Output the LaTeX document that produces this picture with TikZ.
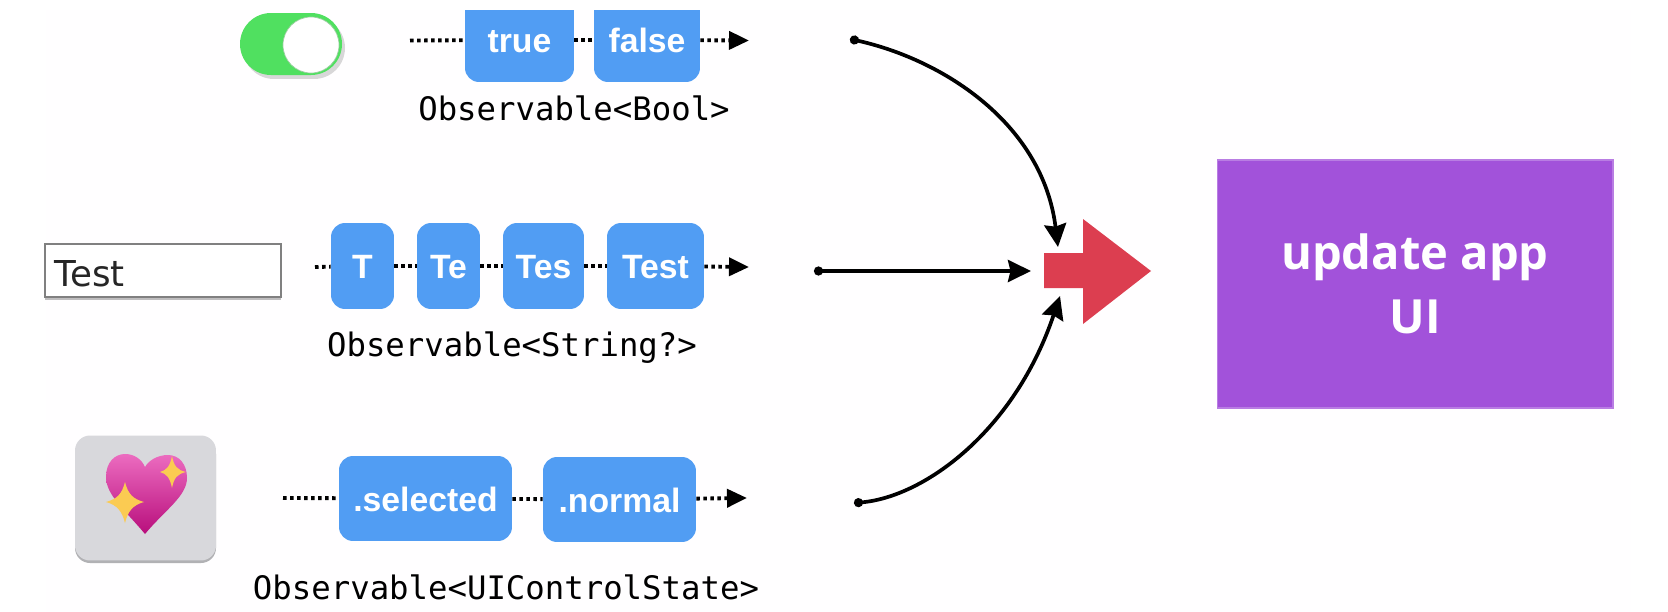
\documentclass[tikz,border=0pt]{standalone}
\usepackage{fontspec}
\setmainfont{Liberation Sans}
\newfontfamily\monofont{DejaVu Sans Mono}
\newfontfamily\fieldfont{DejaVu Sans}
\newfontfamily\uifont{Open Sans}
\usetikzlibrary{arrows.meta,shadows}
\definecolor{eventblue}{HTML}{519DF3}
\definecolor{switchgreen}{HTML}{50E060}
\definecolor{iconback}{HTML}{D8D8DC}
\definecolor{mergered}{HTML}{DC3E50}
\definecolor{uipurple}{HTML}{A252DA}
\definecolor{pagetint}{HTML}{FFFEFF}
\definecolor{heartlight}{HTML}{EC6CC0}
\definecolor{heartmid}{HTML}{DE1F9B}
\definecolor{heartdark}{HTML}{B80E7C}
\definecolor{sparklegold}{HTML}{FBCB52}
\tikzset{
  event/.style={fill=eventblue,rounded corners=0.28cm,inner sep=0pt,text=white,text height=0.5cm,text depth=0cm,font=\fontsize{19.2}{20}\selectfont\bfseries},
  typelabel/.style={inner sep=0pt,font=\monofont\fontsize{18.4}{20}\selectfont},
  stream/.style={line width=2.2pt,dash pattern=on 2pt off 2pt,-{Triangle[length=0.4cm,width=0.36cm]}},
  link/.style={line width=2.2pt,dash pattern=on 2pt off 2pt},
  merge/.style={line width=2.1pt,{Circle[length=0.18cm]}-{Stealth[length=0.46cm,width=0.44cm,inset=0.05cm]}}
}
\begin{document}
\begin{tikzpicture}[x=0.02cm,y=-0.02cm]
\useasboundingbox (0,0) rectangle (1668,612);
\fill [white] (0,0) rectangle (1668,612);
\fill [pagetint] (46,10) rectangle (1631,612);

\node [event,minimum width=2.18cm,minimum height=1.68cm] (true) at (519.5,40) {true};
\node [event,minimum width=2.12cm,minimum height=1.68cm] (false) at (647,40) {false};
\fill [white] (440,0) rectangle (720,10);
\fill [switchgreen,rounded corners=0.62cm,drop shadow={shadow xshift=0.06cm,shadow yshift=-0.08cm,opacity=0.3}] (240,13) rectangle (342,75);
\node [circle,fill=white,draw=switchgreen!70!black!50!white,line width=0.4pt,minimum size=1.12cm,inner sep=0pt] (knob) at (311,45) {};
\coordinate (boolin) at (410,40.5);
\coordinate (boolout) at (749,40.5);
\draw [link] (boolin) -- (true);
\draw [link] (true) -- (false);
\draw [stream] (false) -- (boolout);
\node [typelabel] (booltype) at (574,108) {Observable<Bool>};

\node [fill=white,draw=black!50,line width=1pt,minimum width=4.72cm,minimum height=1.06cm,inner sep=0pt,drop shadow={shadow xshift=0cm,shadow yshift=-0.07cm,opacity=0.5}] (field) at (163,270.5) {};
\node [anchor=west,inner sep=0pt,font=\fieldfont\fontsize{20.3}{22}\selectfont,text=black!85] (fieldtext) at (54,273.5) {Test};
\node [event,minimum width=1.26cm,minimum height=1.72cm] (t1) at (362.5,266) {T};
\node [event,minimum width=1.26cm,minimum height=1.72cm] (t2) at (448.5,266) {Te};
\node [event,minimum width=1.62cm,minimum height=1.72cm] (t3) at (543.5,266) {Tes};
\node [event,minimum width=1.94cm,minimum height=1.72cm] (t4) at (655.5,266) {Test};
\coordinate (textin) at (315,267);
\coordinate (textout) at (749,267);
\draw [link] (textin) -- (t1);
\draw [link] (t1) -- (t2);
\draw [link] (t2) -- (t3);
\draw [link] (t3) -- (t4);
\draw [stream] (t4) -- (textout);
\node [typelabel] (texttype) at (512,348) {Observable<String?>};

\fill [iconback!82!black,rounded corners=0.3cm] (75,439) rectangle (216,563);
\node [fill=iconback,rounded corners=0.3cm,minimum width=2.82cm,minimum height=2.5cm,inner sep=0pt] (icon) at (145.5,498) {};
\shade [top color=heartlight,middle color=heartmid,bottom color=heartdark] (145,534) .. controls (125,510) and (106,495) .. (106,477) .. controls (106,462) and (115,454) .. (125,454) .. controls (135,454) and (142,460) .. (145,467) .. controls (149,460) and (158,455) .. (168,455) .. controls (179,455) and (187,464) .. (187,478) .. controls (187,496) and (165,510) .. (145,534) -- cycle;
\fill [sparklegold] (172,456) .. controls (174,466) and (177,470) .. (186,472) .. controls (177,474) and (174,478) .. (172,488) .. controls (170,478) and (167,474) .. (160,472) .. controls (167,470) and (170,466) .. (172,456) -- cycle;
\fill [sparklegold] (125,482) .. controls (128,494) and (133,499) .. (144,502) .. controls (133,505) and (128,511) .. (125,523) .. controls (122,511) and (117,505) .. (106,502) .. controls (117,499) and (122,494) .. (125,482) -- cycle;
\node [event,minimum width=3.46cm,minimum height=1.7cm] (selected) at (425.5,498.5) {.selected};
\node [event,minimum width=3.06cm,minimum height=1.7cm] (normal) at (619.5,499.5) {.normal};
\coordinate (statein) at (283,498);
\coordinate (stateout) at (747,498);
\draw [link] (statein) -- (selected);
\draw [link] (selected) -- (normal);
\draw [stream] (normal) -- (stateout);
\node [typelabel] (statetype) at (506,587) {Observable<UIControlState>};

\fill [mergered] (1044,253) -- (1083,253) -- (1083,219) -- (1151,271) -- (1083,324) -- (1083,288) -- (1044,288) -- cycle;
\coordinate (mergetop) at (1058,247);
\coordinate (mergemid) at (1031,271);
\coordinate (mergelow) at (1060,296);
\coordinate (sourcetop) at (850,39);
\coordinate (sourcemid) at (814,271);
\coordinate (sourcelow) at (854,503);
\draw [merge] (sourcetop) .. controls (945,60) and (1043,125) .. (mergetop);
\draw [merge] (sourcemid) -- (mergemid);
\draw [merge] (sourcelow) .. controls (925,497) and (1015,430) .. (mergelow);

\node [fill=uipurple,draw=uipurple!75!white,line width=0.6pt,minimum width=7.92cm,minimum height=4.96cm,inner sep=0pt,text=white,align=center,font=\uifont\fontsize{26.8}{36.3}\selectfont\bfseries] (update) at (1415,284) {update app\\UI};
\end{tikzpicture}
\end{document}
